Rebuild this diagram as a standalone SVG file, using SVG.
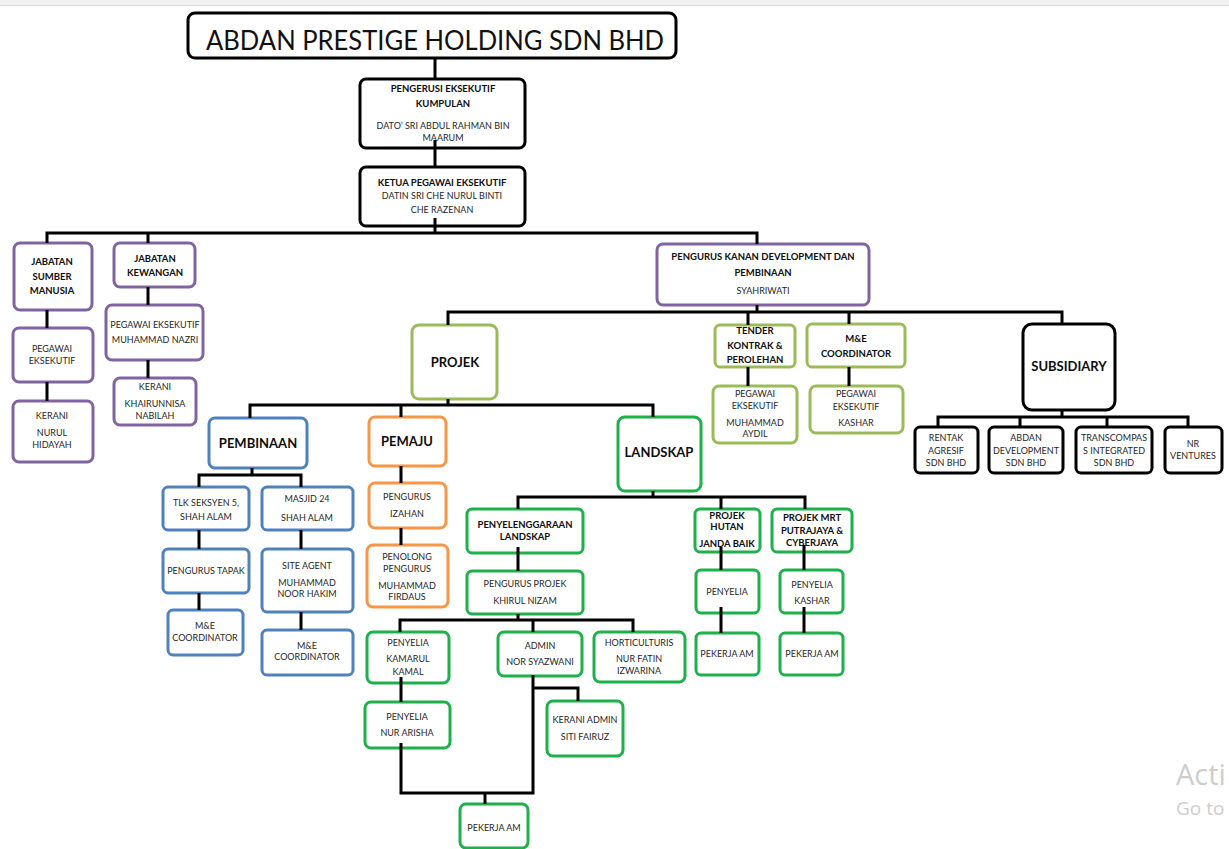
<svg xmlns="http://www.w3.org/2000/svg" width="1229" height="849" viewBox="0 0 1229 849">
<style>
.bx{fill:#fff;stroke-width:3}
.k{stroke:#000}.p{stroke:#8064A2}.ol{stroke:#9BBB59}.bl{stroke:#4F81BD}.o{stroke:#F79646}.g{stroke:#1DB04B}
.h{font-family:Lato,"Liberation Sans",sans-serif;font-weight:bold;font-size:9.5px;fill:#0d0d0d;text-anchor:middle}
.H{font-family:Lato,"Liberation Sans",sans-serif;font-weight:bold;font-size:13px;fill:#0d0d0d;text-anchor:middle}
.t{font-family:Lato,"Liberation Sans",sans-serif;font-size:9px;fill:#262626;text-anchor:middle}
.c{fill:none;stroke:#000;stroke-width:3}
</style>
<rect x="0" y="0" width="1229" height="5" fill="#f2f2f2"/>
<line x1="0" y1="5.5" x2="1229" y2="5.5" stroke="#dadada" stroke-width="1"/>

<g id="title"><rect class="bx k" x="188" y="13" width="488" height="45" rx="7" stroke-width="3.5"/>
<text x="206" y="50" textLength="458" lengthAdjust="spacingAndGlyphs" font-family="Lato,'Liberation Sans',sans-serif" font-size="27" fill="#111">ABDAN PRESTIGE HOLDING SDN BHD</text></g>

<g id="pengerusi"><rect class="bx k" x="360" y="79" width="165" height="69" rx="6"/>
<text class="h"><tspan x="443" y="92">PENGERUSI EKSEKUTIF</tspan><tspan x="443" y="107">KUMPULAN</tspan></text>
<text class="t" font-size="9.5"><tspan x="443" y="129">DATO’ SRI ABDUL RAHMAN BIN</tspan><tspan x="443" y="141">MAARUM</tspan></text></g>

<g id="ketua"><rect class="bx k" x="360" y="167" width="165" height="59" rx="6"/>
<text class="h"><tspan x="442" y="186">KETUA PEGAWAI EKSEKUTIF</tspan></text>
<text class="t" font-size="9.5"><tspan x="442" y="199">DATIN SRI CHE NURUL BINTI</tspan><tspan x="442" y="213">CHE RAZENAN</tspan></text></g>

<g id="jsm"><rect class="bx p" x="14" y="243" width="78" height="67" rx="6"/>
<text class="h"><tspan x="52" y="265">JABATAN</tspan><tspan x="52" y="280">SUMBER</tspan><tspan x="52" y="294">MANUSIA</tspan></text></g>
<g id="jsm-pegawai"><rect class="bx p" x="13" y="328" width="80" height="54" rx="6"/>
<text class="t" font-size="8.5"><tspan x="52" y="352">PEGAWAI</tspan><tspan x="52" y="364">EKSEKUTIF</tspan></text></g>
<g id="jsm-kerani"><rect class="bx p" x="13" y="401" width="80" height="61" rx="6"/>
<text class="t" font-size="8.5"><tspan x="52" y="419">KERANI</tspan><tspan x="52" y="436">NURUL</tspan><tspan x="52" y="448">HIDAYAH</tspan></text></g>

<g id="jk"><rect class="bx p" x="114" y="243" width="81" height="44" rx="6"/>
<text class="h"><tspan x="155" y="262">JABATAN</tspan><tspan x="155" y="276">KEWANGAN</tspan></text></g>
<g id="jk-pegawai"><rect class="bx p" x="106" y="305" width="97" height="55" rx="6"/>
<text class="t" font-size="8.3"><tspan x="155" y="328">PEGAWAI EKSEKUTIF</tspan><tspan x="155" y="343">MUHAMMAD NAZRI</tspan></text></g>
<g id="jk-kerani"><rect class="bx p" x="114" y="378" width="82" height="47" rx="6"/>
<text class="t" font-size="8.5"><tspan x="155" y="390">KERANI</tspan><tspan x="155" y="407">KHAIRUNNISA</tspan><tspan x="155" y="419">NABILAH</tspan></text></g>

<g id="pengurus-kanan"><rect class="bx p" x="657" y="244" width="212" height="61" rx="6"/>
<text class="h" font-size="10"><tspan x="763" y="260">PENGURUS KANAN DEVELOPMENT DAN</tspan><tspan x="763" y="276">PEMBINAAN</tspan></text>
<text class="t" font-size="9.5"><tspan x="763" y="294">SYAHRIWATI</tspan></text></g>

<g id="projek"><rect class="bx ol" x="412" y="325" width="85" height="74" rx="7"/>
<text class="H" x="455" y="367">PROJEK</text></g>

<g id="tender"><rect class="bx ol" x="715" y="325" width="80" height="42" rx="5"/>
<text class="h"><tspan x="755" y="334">TENDER</tspan><tspan x="755" y="349">KONTRAK &amp;</tspan><tspan x="755" y="363">PEROLEHAN</tspan></text></g>
<g id="tender-pegawai"><rect class="bx ol" x="713" y="386" width="84" height="57" rx="6"/>
<text class="t" font-size="8.5"><tspan x="755" y="397">PEGAWAI</tspan><tspan x="755" y="409">EKSEKUTIF</tspan><tspan x="755" y="426">MUHAMMAD</tspan><tspan x="755" y="437">AYDIL</tspan></text></g>

<g id="me"><rect class="bx ol" x="807" y="324" width="98" height="43" rx="5"/>
<text class="h" font-size="10.5"><tspan x="856" y="342">M&amp;E</tspan><tspan x="856" y="357">COORDINATOR</tspan></text></g>
<g id="me-pegawai"><rect class="bx ol" x="810" y="386" width="93" height="47" rx="6"/>
<text class="t" font-size="8.5"><tspan x="856" y="397">PEGAWAI</tspan><tspan x="856" y="410">EKSEKUTIF</tspan><tspan x="856" y="426">KASHAR</tspan></text></g>

<g id="subsidiary"><rect class="bx k" x="1023" y="324" width="92" height="86" rx="9"/>
<text class="H" font-size="11.5" x="1069" y="371">SUBSIDIARY</text></g>
<g id="rentak"><rect class="bx k" x="915" y="427" width="63" height="46" rx="5"/>
<text class="t" font-size="8.5"><tspan x="946" y="441">RENTAK</tspan><tspan x="946" y="454">AGRESIF</tspan><tspan x="946" y="466">SDN BHD</tspan></text></g>
<g id="abdan-dev"><rect class="bx k" x="989" y="427" width="74" height="46" rx="5"/>
<text class="t" font-size="8.5"><tspan x="1026" y="441">ABDAN</tspan><tspan x="1026" y="454">DEVELOPMENT</tspan><tspan x="1026" y="466">SDN BHD</tspan></text></g>
<g id="transcompas"><rect class="bx k" x="1076" y="427" width="76" height="46" rx="5"/>
<text class="t" font-size="8.5"><tspan x="1114" y="441">TRANSCOMPAS</tspan><tspan x="1114" y="454">S INTEGRATED</tspan><tspan x="1114" y="466">SDN BHD</tspan></text></g>
<g id="nr"><rect class="bx k" x="1165" y="427" width="57" height="46" rx="5"/>
<text class="t" font-size="8.5"><tspan x="1193" y="447">NR</tspan><tspan x="1193" y="459">VENTURES</tspan></text></g>

<g id="pembinaan"><rect class="bx bl" x="209" y="418" width="98" height="50" rx="6"/>
<text class="H" x="258" y="448">PEMBINAAN</text></g>
<g id="tlk"><rect class="bx bl" x="163" y="487" width="86" height="43" rx="5"/>
<text class="t" font-size="10" fill="#1a1a1a"><tspan x="206" y="506">TLK SEKSYEN 5,</tspan><tspan x="206" y="520">SHAH ALAM</tspan></text></g>
<g id="masjid"><rect class="bx bl" x="262" y="487" width="91" height="43" rx="5"/>
<text class="t" font-size="10" fill="#1a1a1a"><tspan x="307" y="502">MASJID 24</tspan><tspan x="307" y="521">SHAH ALAM</tspan></text></g>
<g id="pengurus-tapak"><rect class="bx bl" x="163" y="549" width="86" height="44" rx="5"/>
<text class="t" x="206" y="574">PENGURUS TAPAK</text></g>
<g id="site-agent"><rect class="bx bl" x="262" y="549" width="91" height="63" rx="5"/>
<text class="t" font-size="8.5"><tspan x="307" y="569">SITE AGENT</tspan><tspan x="307" y="586">MUHAMMAD</tspan><tspan x="307" y="597">NOOR HAKIM</tspan></text></g>
<g id="me-tlk"><rect class="bx bl" x="168" y="610" width="75" height="45" rx="5"/>
<text class="t" font-size="8.5"><tspan x="205" y="629">M&amp;E</tspan><tspan x="205" y="641">COORDINATOR</tspan></text></g>
<g id="me-masjid"><rect class="bx bl" x="262" y="630" width="91" height="45" rx="5"/>
<text class="t" font-size="8.5"><tspan x="307" y="649">M&amp;E</tspan><tspan x="307" y="660">COORDINATOR</tspan></text></g>

<g id="pemaju"><rect class="bx o" x="369" y="417" width="77" height="49" rx="6"/>
<text class="H" x="407" y="446">PEMAJU</text></g>
<g id="pengurus-izahan"><rect class="bx o" x="369" y="483" width="77" height="45" rx="6"/>
<text class="t"><tspan x="407" y="500">PENGURUS</tspan><tspan x="407" y="517">IZAHAN</tspan></text></g>
<g id="penolong"><rect class="bx o" x="367" y="545" width="81" height="62" rx="6"/>
<text class="t"><tspan x="407" y="560">PENOLONG</tspan><tspan x="407" y="572">PENGURUS</tspan><tspan x="407" y="589">MUHAMMAD</tspan><tspan x="407" y="600">FIRDAUS</tspan></text></g>

<g id="landskap"><rect class="bx g" x="618" y="417" width="83" height="74" rx="7"/>
<text class="H" font-size="12" x="659" y="457">LANDSKAP</text></g>
<g id="penyelenggaraan"><rect class="bx g" x="467" y="509" width="116" height="44" rx="5"/>
<text class="h" font-size="8.7"><tspan x="525" y="528">PENYELENGGARAAN</tspan><tspan x="525" y="540">LANDSKAP</tspan></text></g>
<g id="pengurus-projek"><rect class="bx g" x="467" y="571" width="116" height="43" rx="5"/>
<text class="t"><tspan x="525" y="587">PENGURUS PROJEK</tspan><tspan x="525" y="604">KHIRUL NIZAM</tspan></text></g>
<g id="penyelia-kamarul"><rect class="bx g" x="367" y="632" width="82" height="51" rx="6"/>
<text class="t" font-size="8.5"><tspan x="408" y="646">PENYELIA</tspan><tspan x="408" y="662">KAMARUL</tspan><tspan x="408" y="675">KAMAL</tspan></text></g>
<g id="admin"><rect class="bx g" x="498" y="632" width="84" height="44" rx="6"/>
<text class="t" font-size="8.5"><tspan x="540" y="649">ADMIN</tspan><tspan x="540" y="665">NOR SYAZWANI</tspan></text></g>
<g id="horticulturis"><rect class="bx g" x="594" y="632" width="91" height="50" rx="6"/>
<text class="t" font-size="8.5"><tspan x="639" y="646">HORTICULTURIS</tspan><tspan x="639" y="662">NUR FATIN</tspan><tspan x="639" y="674">IZWARINA</tspan></text></g>
<g id="penyelia-arisha"><rect class="bx g" x="365" y="702" width="85" height="46" rx="6"/>
<text class="t" font-size="8.5"><tspan x="407" y="720">PENYELIA</tspan><tspan x="407" y="736">NUR ARISHA</tspan></text></g>
<g id="kerani-admin"><rect class="bx g" x="547" y="701" width="76" height="55" rx="6"/>
<text class="t" font-size="8.5"><tspan x="585" y="723">KERANI ADMIN</tspan><tspan x="585" y="740">SITI FAIRUZ</tspan></text></g>
<g id="pekerja-landskap"><rect class="bx g" x="460" y="804" width="68" height="44" rx="6"/>
<text class="t" font-size="8.5" x="494" y="831">PEKERJA AM</text></g>

<g id="hutan"><rect class="bx g" x="695" y="509" width="65" height="43" rx="5"/>
<text class="h" font-size="8.5"><tspan x="727" y="519">PROJEK</tspan><tspan x="727" y="530">HUTAN</tspan><tspan x="727" y="547">JANDA BAIK</tspan></text></g>
<g id="hutan-penyelia"><rect class="bx g" x="696" y="570" width="63" height="43" rx="5"/>
<text class="t" font-size="8.5" x="727" y="595">PENYELIA</text></g>
<g id="hutan-pekerja"><rect class="bx g" x="696" y="633" width="63" height="42" rx="5"/>
<text class="t" font-size="8.5" x="727" y="657">PEKERJA AM</text></g>
<g id="mrt"><rect class="bx g" x="772" y="509" width="80" height="43" rx="5"/>
<text class="h" font-size="8.5"><tspan x="812" y="521">PROJEK MRT</tspan><tspan x="812" y="534">PUTRAJAYA &amp;</tspan><tspan x="812" y="546">CYBERJAYA</tspan></text></g>
<g id="mrt-penyelia"><rect class="bx g" x="780" y="570" width="63" height="43" rx="5"/>
<text class="t" font-size="8.5"><tspan x="812" y="588">PENYELIA</tspan><tspan x="812" y="604">KASHAR</tspan></text></g>
<g id="mrt-pekerja"><rect class="bx g" x="780" y="633" width="63" height="42" rx="5"/>
<text class="t" font-size="8.5" x="812" y="657">PEKERJA AM</text></g>

<g id="connectors">
<path class="c" d="M435 58V79M435 140V167M435 218V233"/>
<path class="c" d="M47 243V233H757V244"/>
<path class="c" d="M148 233V243M47 310V328M47 382V401M148 287V305M148 360V378"/>
<path class="c" d="M757 305V312M448 325V312H1062V324M748 312V325M849 312V324"/>
<path class="c" d="M748 367V386M849 367V386"/>
<path class="c" d="M1062 410V417M938 427V417H1188V427M1020 417V427M1107 417V427"/>
<path class="c" d="M448 399V405M250 418V405H653V417M401 405V417"/>
<path class="c" d="M252 468V475M199 487V475H301V487M199 530V549M199 593V610M301 530V549M301 612V630"/>
<path class="c" d="M401 466V483M401 528V545"/>
<path class="c" d="M653 491V497M518 509V497H805V509M721 497V509"/>
<path class="c" d="M518 547V571M518 614V620M400 632V620H633V632M533 620V632"/>
<path class="c" d="M401 677V702M401 743V793H533V675M533 688H578V701M485 793V804"/>
<path class="c" d="M721 547V570M721 607V633M804 545V570M804 607V633"/>
</g>

<text x="1176" y="785" font-family="'Open Sans','Noto Sans',sans-serif" font-size="29" fill="#cdcdcd">Acti</text>
<text x="1176" y="815" font-family="'Open Sans','Noto Sans',sans-serif" font-size="19" fill="#cdcdcd">Go to</text>
</svg>
